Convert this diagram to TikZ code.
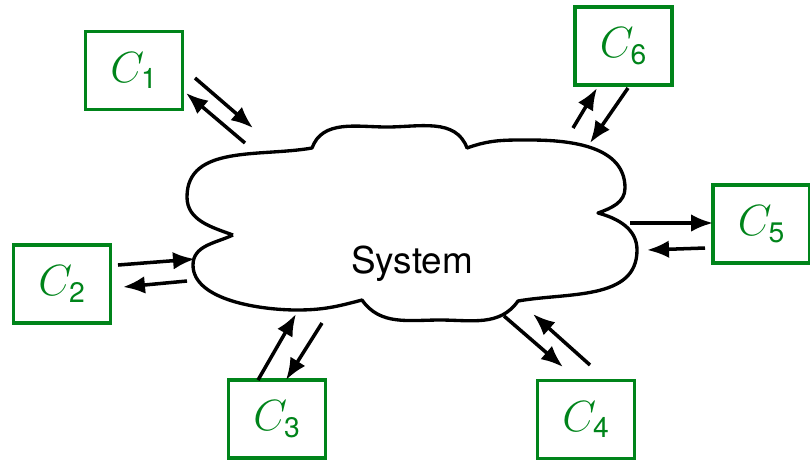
\documentclass[tikz,border=0pt]{standalone}
\usepackage{amsmath}
\usepackage{fontspec}
\setmainfont{TeX Gyre Heros}
\usetikzlibrary{arrows.meta}
\definecolor{boxgreen}{HTML}{00841A}
\tikzset{
  compbox/.style={draw=boxgreen,line width=1.9pt,minimum width=1.94cm,minimum height=1.56cm,inner sep=0pt,text=boxgreen,font=\fontsize{23}{28}\selectfont},
  flow/.style={-{Latex[length=12.5pt,width=10pt]},line width=2pt},
  cloudline/.style={line width=1.9pt,line join=round},
}

\begin{document}
\begin{tikzpicture}[x=0.02cm,y=0.02cm]
	\useasboundingbox (0,0) rectangle (810,-461);
	
	% the system cloud
	\draw[cloudline] (233,-235) to[out=160,in=-90] (187,-197) to[out=90,in=190] (312,-148)
	to[out=70,in=180] (387,-127) to[out=0,in=110] (467,-148)
	to[out=20,in=180] (530,-140) to[out=0,in=90] (625,-188) to[out=-90,in=20] (598,-213)
	to[out=-15,in=90] (637,-250) to[out=-90,in=10] (518,-301)
	to[out=-125,in=0] (440,-320) to[out=180,in=-55] (362,-300)
	to[out=-165,in=0] (297,-310) to[out=180,in=-90,looseness=0.8] (193,-265) to[out=90,in=205] (233,-235);
	\node[anchor=base,font=\fontsize{21}{25}\selectfont] (sys) at (412,-273) {System};
	
	% components
	\node[compbox] (c1) at (134,-70.5) {$C_{\text{1}}$};
	\node[compbox] (c2) at (62,-284) {$C_{\text{2}}$};
	\node[compbox] (c3) at (277,-419) {$C_{\text{3}}$};
	\node[compbox] (c4) at (586,-419.5) {$C_{\text{4}}$};
	\node[compbox] (c5) at (761.5,-224) {$C_{\text{5}}$};
	\node[compbox] (c6) at (623.5,-46) {$C_{\text{6}}$};
	
	% arrow ends
	\coordinate (c1out) at (195,-78);   \coordinate (c1sys) at (253,-128);
	\coordinate (c1ret) at (245,-143);  \coordinate (c1in) at (186,-93);
	\coordinate (c2out) at (118,-265);  \coordinate (c2sys) at (195,-259);
	\coordinate (c2ret) at (187,-281);  \coordinate (c2in) at (123,-287);
	\coordinate (c3out) at (258,-380);  \coordinate (c3sys) at (296,-314);
	\coordinate (c3ret) at (322,-323);  \coordinate (c3in) at (286,-380);
	\coordinate (c4out) at (590,-365);  \coordinate (c4sys) at (533,-314);
	\coordinate (c4ret) at (504,-316);  \coordinate (c4in) at (563,-367);
	\coordinate (c5out) at (705,-248);  \coordinate (c5sys) at (647,-250);
	\coordinate (c5ret) at (630,-223);  \coordinate (c5in) at (713,-223);
	\coordinate (c6out) at (628,-88);   \coordinate (c6sys) at (590,-143);
	\coordinate (c6ret) at (573,-128);  \coordinate (c6in) at (597,-88);
	
	\draw[flow] (c1out)--(c1sys);
	\draw[flow] (c1ret)--(c1in);
	\draw[flow] (c2out)--(c2sys);
	\draw[flow] (c2ret)--(c2in);
	\draw[flow] (c3out)--(c3sys);
	\draw[flow] (c3ret)--(c3in);
	\draw[flow] (c4out)--(c4sys);
	\draw[flow] (c4ret)--(c4in);
	\draw[flow] (c5out)--(c5sys);
	\draw[flow] (c5ret)--(c5in);
	\draw[flow] (c6out)--(c6sys);
	\draw[flow] (c6ret)--(c6in);
\end{tikzpicture}
\end{document}
